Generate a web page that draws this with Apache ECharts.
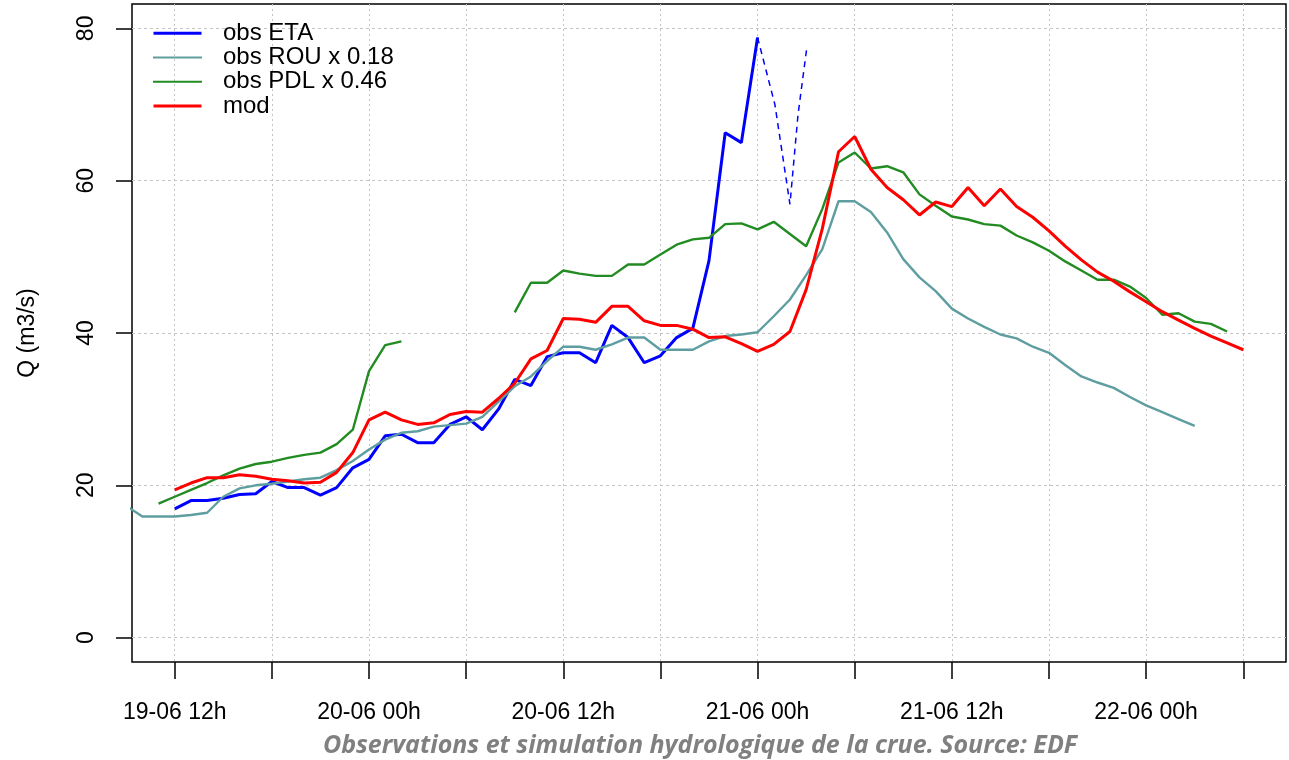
<!DOCTYPE html>
<html>
<head>
<meta charset="utf-8">
<script src="https://cdn.jsdelivr.net/npm/echarts@6/dist/echarts.min.js"></script>
<style>
html,body{margin:0;padding:0;background:#fff;}
#chart{width:1289px;height:760px;}
</style>
</head>
<body>
<div id="chart"></div>
<script>
// Hours counted from 19-06 00h
const tickHours = [12, 18, 24, 30, 36, 42, 48, 54, 60, 66, 72, 78];
const labelHours = [12, 24, 36, 48, 60, 72];
const yTicks = [0, 20, 40, 60, 80];

const etaHours = [12,13,14,15,16,17,18,19,20,21,22,23,24,25,26,27,28,29,30,31,32,33,34,35,36,37,38,39,40,41,42,43,44,45,46,47,48];
const etaValues = [16.9,18.0,18.0,18.3,18.8,18.9,20.5,19.7,19.7,18.7,19.7,22.3,23.4,26.5,26.7,25.6,25.6,28.0,29.0,27.3,30.0,33.9,33.1,36.9,37.4,37.4,36.1,41.0,39.4,36.1,37.0,39.4,40.6,49.5,66.3,65.0,78.8];

const etaDashHours = [48, 49.07, 50.0, 50.5, 51.05];
const etaDashValues = [78.8, 70.0, 56.9, 68.7, 77.6];

const rouHours = [9,10,11,12,13,14,15,16,17,18,19,20,21,22,23,24,25,26,27,28,29,30,31,32,33,34,35,36,37,38,39,40,41,42,43,44,45,46,47,48,49,50,51,52,53,54,55,56,57,58,59,60,61,62,63,64,65,66,67,68,69,70,71,72,73,74,75];
const rouValues = [17.3,15.9,15.9,15.9,16.1,16.4,18.5,19.6,20.0,20.2,20.5,20.8,21.0,22.0,23.2,24.7,26.0,26.9,27.1,27.7,27.9,28.1,29.0,31.0,33.0,34.3,36.3,38.2,38.2,37.8,38.5,39.4,39.4,37.8,37.8,37.8,38.9,39.6,39.8,40.1,42.2,44.4,47.6,51.0,57.3,57.3,55.9,53.2,49.7,47.3,45.5,43.2,41.9,40.8,39.8,39.3,38.2,37.4,35.8,34.3,33.5,32.8,31.6,30.5,29.6,28.7,27.8];

const pdlHours = [11,12,13,14,15,16,17,18,19,20,21,22,23,24,25,26,27,28,29,30,31,32,33,34,35,36,37,38,39,40,41,42,43,44,45,46,47,48,49,50,51,52,53,54,55,56,57,58,59,60,61,62,63,64,65,66,67,68,69,70,71,72,73,74,75,76,77];
const pdlValues = [17.6,18.5,19.4,20.3,21.3,22.2,22.8,23.1,23.6,24.0,24.3,25.4,27.3,35.0,38.4,38.9,null,null,null,null,null,null,42.7,46.6,46.6,48.2,47.8,47.5,47.5,49.0,49.0,50.3,51.6,52.3,52.5,54.3,54.4,53.6,54.6,53.0,51.4,56.3,62.4,63.7,61.6,61.9,61.1,58.2,56.7,55.3,54.9,54.3,54.1,52.8,51.9,50.8,49.4,48.2,47.0,47.0,46.1,44.6,42.4,42.6,41.5,41.2,40.2];

const modHours = [12,13,14,15,16,17,18,19,20,21,22,23,24,25,26,27,28,29,30,31,32,33,34,35,36,37,38,39,40,41,42,43,44,45,46,47,48,49,50,51,52,53,54,55,56,57,58,59,60,61,62,63,64,65,66,67,68,69,70,71,72,73,74,75,76,77,78];
const modValues = [19.4,20.3,21.0,21.0,21.4,21.2,20.8,20.6,20.3,20.4,21.7,24.3,28.6,29.6,28.6,28.0,28.2,29.3,29.7,29.6,31.4,33.4,36.6,37.7,41.9,41.8,41.4,43.5,43.5,41.6,41.0,41.0,40.5,39.4,39.5,38.6,37.6,38.5,40.2,45.7,53.7,63.8,65.8,61.5,59.1,57.5,55.5,57.2,56.6,59.1,56.7,58.9,56.6,55.2,53.4,51.4,49.6,48.0,46.8,45.4,44.1,42.8,41.7,40.6,39.6,38.7,37.8];

function pairs(h, v) { return h.map((x, i) => [x, v[i]]); }
function fmtHour(h) {
  const day = 19 + Math.floor(h / 24);
  const hh = h % 24;
  return day + '-06 ' + (hh < 10 ? '0' + hh : hh) + 'h';
}

const chart = echarts.init(document.getElementById('chart'), null, {renderer: 'canvas'});
const FONT = 'Liberation Sans';
const thick = 'path://M0,0H48V3H0Z';
const thin = 'path://M0,0H48V2H0Z';

chart.setOption({
  animation: false,
  backgroundColor: '#ffffff',
  textStyle: {fontFamily: FONT},
  grid: {left: 132, right: 3, top: 4, bottom: 98, show: true, borderColor: '#000', borderWidth: 1.5, backgroundColor: 'transparent'},
  legend: {
    orient: 'vertical', left: 153, top: 21, padding: 0,
    itemWidth: 49, itemHeight: 3, itemGap: 0,
    textStyle: {fontSize: 24, lineHeight: 24.3, color: '#000', fontFamily: FONT, padding: [0, 0, 0, 16]},
    data: [
      {name: 'obs ETA', icon: thick, itemStyle: {color: '#0000ff'}},
      {name: 'obs ROU x 0.18', icon: thin, itemStyle: {color: '#5f9ea0'}},
      {name: 'obs PDL x 0.46', icon: thin, itemStyle: {color: '#228b22'}},
      {name: 'mod', icon: thick, itemStyle: {color: '#ff0000'}}
    ]
  },
  xAxis: {
    type: 'value', min: 9.36, max: 80.64, position: 'bottom',
    axisLine: {show: false, onZero: false},
    axisTick: {show: true, inside: false, customValues: tickHours, length: 17, lineStyle: {color: '#000', width: 1.5}},
    axisLabel: {customValues: labelHours, formatter: v => fmtHour(v), margin: 39, fontSize: 23, color: '#000', fontFamily: FONT},
    splitLine: {show: true, lineStyle: {color: '#c4c4c4', type: [2, 3], width: 1}}
  },
  yAxis: {
    type: 'value', min: -3.2, max: 83.2, position: 'left',
    name: 'Q (m3/s)', nameLocation: 'middle', nameRotate: 90, nameGap: 93,
    nameTextStyle: {fontSize: 23, color: '#000', fontFamily: FONT},
    axisLine: {show: false, onZero: false},
    axisTick: {show: true, inside: false, customValues: yTicks, length: 16, lineStyle: {color: '#000', width: 1.5}},
    axisLabel: {customValues: yTicks, rotate: 90, margin: 34, fontSize: 23, color: '#000', fontFamily: FONT},
    splitLine: {show: true, lineStyle: {color: '#c4c4c4', type: [3, 3], width: 1}}
  },
  graphic: [{
    type: 'text', x: 700, y: 746,
    style: {text: 'Observations et simulation hydrologique de la crue. Source: EDF', align: 'center', verticalAlign: 'middle',
      fontFamily: 'Open Sans', fontStyle: 'italic', fontWeight: 'bold', fontSize: 25, fill: '#808080'}
  }],
  series: [
    {name: 'obs ETA', type: 'line', data: pairs(etaHours, etaValues), symbol: 'none', color: '#0000ff', lineStyle: {width: 3, color: '#0000ff'}},
    {name: 'obs ETA (estim.)', type: 'line', data: pairs(etaDashHours, etaDashValues), symbol: 'none', color: '#0000ff', lineStyle: {width: 1.5, color: '#0000ff', type: [6, 5]}},
    {name: 'obs ROU x 0.18', type: 'line', data: pairs(rouHours, rouValues), symbol: 'none', color: '#5f9ea0', lineStyle: {width: 2.4, color: '#5f9ea0'}},
    {name: 'obs PDL x 0.46', type: 'line', data: pairs(pdlHours, pdlValues), symbol: 'none', connectNulls: false, color: '#228b22', lineStyle: {width: 2.4, color: '#228b22'}},
    {name: 'mod', type: 'line', data: pairs(modHours, modValues), symbol: 'none', color: '#ff0000', lineStyle: {width: 3, color: '#ff0000'}}
  ]
});
</script>
</body>
</html>
